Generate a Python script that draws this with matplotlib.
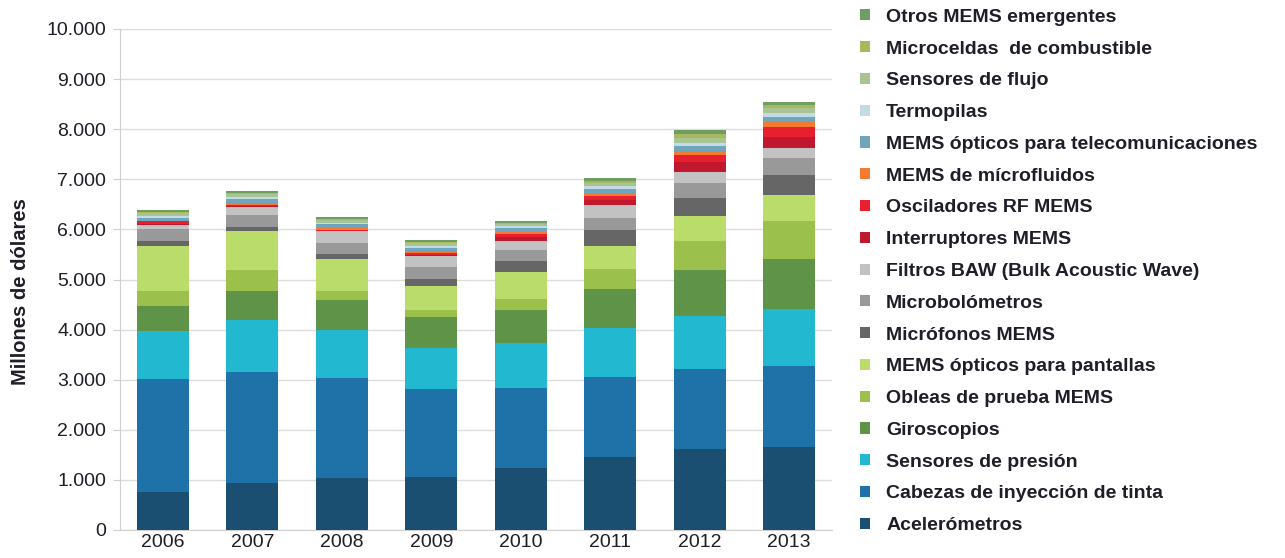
import matplotlib
matplotlib.use('Agg')
import matplotlib.pyplot as plt
from matplotlib.patches import Patch
import numpy as np

plt.rcParams['font.family'] = ['Liberation Sans', 'DejaVu Sans']

years = ['2006', '2007', '2008', '2009', '2010', '2011', '2012', '2013']

# series, bottom to top (millones de dolares)
acelerometros = [760, 930, 1030, 1060, 1230, 1450, 1620, 1660]
cabezas_tinta = [2250, 2220, 2000, 1750, 1600, 1610, 1590, 1610]
sensores_presion = [960, 1040, 970, 830, 900, 970, 1070, 1140]
giroscopios = [510, 590, 590, 610, 670, 790, 910, 990]
obleas_prueba = [300, 400, 190, 140, 220, 380, 580, 770]
opticos_pantallas = [890, 790, 620, 480, 520, 470, 500, 520]
microfonos = [100, 80, 110, 140, 220, 320, 350, 400]
microbolometros = [230, 240, 210, 230, 230, 240, 310, 330]
filtros_baw = [80, 160, 250, 230, 180, 260, 220, 200]
interruptores = [30, 10, 5, 10, 80, 100, 200, 230]
osciladores_rf = [50, 20, 10, 50, 55, 80, 130, 190]
microfluidos = [10, 40, 55, 45, 45, 50, 90, 110]
opticos_telecom = [60, 80, 60, 50, 85, 80, 90, 100]
termopilas = [40, 50, 30, 45, 40, 70, 55, 80]
sensores_flujo = [50, 50, 50, 50, 30, 60, 100, 90]
microceldas = [30, 30, 20, 20, 20, 40, 80, 70]
otros = [30, 30, 40, 50, 50, 50, 80, 60]

series = [
    ('Acelerómetros', acelerometros, '#1b4f72'),
    ('Cabezas de inyección de tinta', cabezas_tinta, '#1f72a8'),
    ('Sensores de presión', sensores_presion, '#22b8cf'),
    ('Giroscopios', giroscopios, '#5f9448'),
    ('Obleas de prueba MEMS', obleas_prueba, '#9cc04c'),
    ('MEMS ópticos para pantallas', opticos_pantallas, '#badc6a'),
    ('Micrófonos MEMS', microfonos, '#666666'),
    ('Microbolómetros', microbolometros, '#999999'),
    ('Filtros BAW (Bulk Acoustic Wave)', filtros_baw, '#c2c2c2'),
    ('Interruptores MEMS', interruptores, '#c0182e'),
    ('Osciladores RF MEMS', osciladores_rf, '#e8202e'),
    ('MEMS de mícrofluidos', microfluidos, '#f47a34'),
    ('MEMS ópticos para telecomunicaciones', opticos_telecom, '#6fa5bd'),
    ('Termopilas', termopilas, '#c3dbe4'),
    ('Sensores de flujo', sensores_flujo, '#a9c494'),
    ('Microceldas  de combustible', microceldas, '#a8b85c'),
    ('Otros MEMS emergentes', otros, '#6f9e62'),
]

fig = plt.figure(figsize=(12.85, 5.58), dpi=100)
ax = fig.add_axes([120 / 1285, 1 - 530 / 558, 712 / 1285, 501 / 558])

x = np.arange(len(years))
bottom = np.zeros(len(years))
handles = []
for name, vals, col in series:
    ax.bar(x, vals, width=0.58, bottom=bottom, color=col, zorder=3)
    bottom += np.array(vals)
    handles.append(Patch(facecolor=col, label=name))

ax.set_xlim(-0.48, 7.48)
ax.set_ylim(0, 10000)
ax.set_yticks(range(0, 10001, 1000))
ax.set_yticklabels(['0' if v == 0 else f'{v // 1000}.000' for v in range(0, 10001, 1000)])
ax.set_xticks(x)
ax.set_xticklabels(years)
ax.yaxis.grid(True, color='#dcdcdc', linewidth=1, zorder=0)
for s in ['top', 'right']:
    ax.spines[s].set_visible(False)
for s in ['left', 'bottom']:
    ax.spines[s].set_color('#cfcfcf')
ax.tick_params(axis='y', length=5, color='#cfcfcf', labelsize=14, labelcolor='#1e1e28', pad=5)
ax.tick_params(axis='x', length=0, labelsize=14, labelcolor='#1e1e28', pad=3)
ax.set_ylabel('Millones de dólares', fontsize=14.5, fontweight='bold', color='#1e1e28')
ax.yaxis.set_label_coords(-0.127, 0.475)

leg = fig.legend(handles=handles[::-1], loc='upper left', bbox_to_anchor=(852 / 1285, 1 - 1 / 558),
                 frameon=False, prop={'weight': 'bold', 'size': 14},
                 handlelength=0.5, handleheight=0.5, handletextpad=0.85, labelspacing=0.76,
                 borderaxespad=0)
for t in leg.get_texts():
    t.set_color('#1e1e28')

plt.savefig('out.png', dpi=100)
